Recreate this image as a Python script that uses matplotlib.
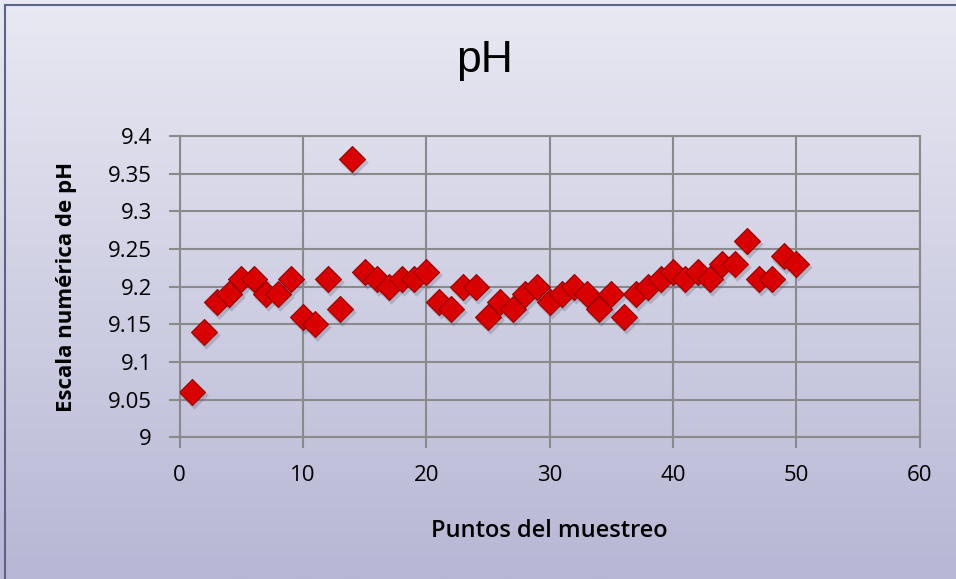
import numpy as np
import matplotlib.pyplot as plt
from matplotlib.patches import Rectangle

puntos = list(range(1, 51))
ph = [9.06, 9.14, 9.18, 9.19, 9.21, 9.21, 9.19, 9.19, 9.21, 9.16,
      9.15, 9.21, 9.17, 9.37, 9.22, 9.21, 9.20, 9.21, 9.21, 9.22,
      9.18, 9.17, 9.20, 9.20, 9.16, 9.18, 9.17, 9.19, 9.20, 9.18,
      9.19, 9.20, 9.19, 9.17, 9.19, 9.16, 9.19, 9.20, 9.21, 9.22,
      9.21, 9.22, 9.21, 9.23, 9.23, 9.26, 9.21, 9.21, 9.24, 9.23]
x_ticks = [0, 10, 20, 30, 40, 50, 60]
y_ticks = [9, 9.05, 9.1, 9.15, 9.2, 9.25, 9.3, 9.35, 9.4]
y_labels = ['9', '9.05', '9.1', '9.15', '9.2', '9.25', '9.3', '9.35', '9.4']

plt.rcParams['font.family'] = ['Open Sans', 'DejaVu Sans']

fig = plt.figure(figsize=(9.56, 5.79), dpi=100)

# vertical gradient behind everything, light at the top
bg = fig.add_axes([0, 0, 1, 1], zorder=-10)
grad = np.linspace(0, 1, 256).reshape(-1, 1)
cmap = plt.matplotlib.colors.LinearSegmentedColormap.from_list(
    'fondo', ['#e9e9f3', '#b7b7d5'])
bg.imshow(grad, aspect='auto', cmap=cmap, extent=[0, 1, 0, 1], origin='upper')
bg.set_xlim(0, 1)
bg.set_ylim(0, 1)
bg.axis('off')
bg.add_patch(Rectangle((5 / 956, -0.1), 1, 1.1 - 5 / 579, fill=False,
                       edgecolor='#5a6488', linewidth=1.5,
                       transform=bg.transAxes))

ax = fig.add_axes([0.188, 0.245, 0.774, 0.52])
ax.patch.set_alpha(0)

# soft drop shadow under each diamond
ax.scatter(np.array(puntos) + 0.15, np.array(ph) - 0.004, marker='D', s=210,
           color='#50506a', alpha=0.25, linewidths=0, zorder=3)
ax.scatter(puntos, ph, marker='D', s=175, color='#d80000',
           edgecolors='#9a0000', linewidths=0.8, zorder=4)

ax.set_xlim(0, 60)
ax.set_ylim(9, 9.4)
ax.set_xticks(x_ticks)
ax.set_yticks(y_ticks)
ax.set_yticklabels(y_labels)
ax.grid(True, color='#8a8a8a', linewidth=1.5)
ax.set_axisbelow(True)
for s in ax.spines.values():
    s.set_color('#8a8a8a')
    s.set_linewidth(1.5)
ax.tick_params(axis='both', length=8, width=1.5, color='#8a8a8a',
               labelsize=16, pad=12)

# title centred on the whole figure, not on the plot area
ax.set_title('pH', fontsize=32, pad=46, x=(0.507 - 0.188) / 0.774,
             family=['Liberation Sans', 'DejaVu Sans'])
ax.set_xlabel('Puntos del muestreo', fontsize=17, fontweight='semibold', labelpad=24)
ax.set_ylabel('Escala numérica de pH', fontsize=16, fontweight='bold', labelpad=22)

plt.savefig('out.png', dpi=100)
